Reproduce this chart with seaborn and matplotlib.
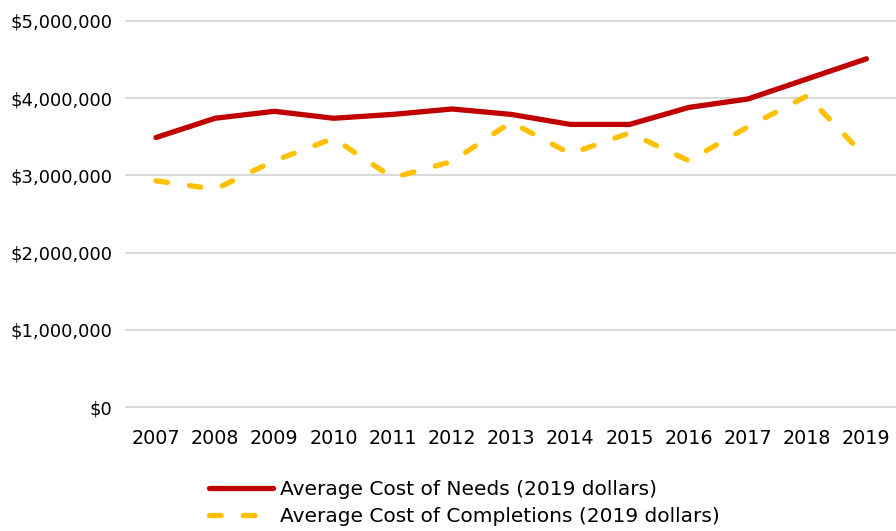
import numpy as np
import pandas as pd
import matplotlib
matplotlib.use("Agg")
import matplotlib.pyplot as plt
import seaborn as sns
from matplotlib.ticker import FuncFormatter

# ---------------------------------------------------------------
# Data
# ---------------------------------------------------------------
years = [2007, 2008, 2009, 2010, 2011, 2012, 2013, 2014, 2015, 2016, 2017, 2018, 2019]
cost_needs = [3490000, 3740000, 3830000, 3740000, 3790000, 3860000, 3790000,
              3660000, 3660000, 3880000, 3990000, 4250000, 4510000]
cost_completions = [2930000, 2820000, 3190000, 3480000, 2970000, 3180000, 3690000,
                    3280000, 3550000, 3190000, 3630000, 4030000, 3230000]

needs_label = "Average Cost of Needs (2019 dollars)"
compl_label = "Average Cost of Completions (2019 dollars)"

df = pd.DataFrame({"Year": years, needs_label: cost_needs, compl_label: cost_completions})
long_df = df.melt(id_vars="Year", var_name="Series", value_name="Cost")

sns.set_style("white")
plt.rcParams["font.family"] = ["DejaVu Sans"]

fig = plt.figure(figsize=(8.96, 5.31), dpi=100)
ax = fig.add_axes([0.141, 0.2335, 0.859, 0.727])

dash = (2.2, 4.2)
palette = {needs_label: "#C00000", compl_label: "#FFC000"}
sns.lineplot(data=long_df, x="Year", y="Cost", hue="Series", style="Series",
             palette=palette, dashes={needs_label: "", compl_label: dash},
             linewidth=3.8, ax=ax, legend=False)
for line in ax.lines:
    line.set_solid_capstyle("round")
    line.set_dash_capstyle("round")

ax.set_xlim(2006.5, 2019.5)
ax.set_ylim(0, 5000000)
ax.set_xticks(years)
ax.set_yticks(np.arange(0, 5000001, 1000000))
ax.yaxis.set_major_formatter(FuncFormatter(lambda v, p: f"${v:,.0f}"))
ax.grid(axis="y", color="#d9d9d9", linewidth=1.5)
for gl in ax.get_ygridlines():
    gl.set_clip_on(False)
ax.set_axisbelow(True)
for s in ax.spines.values():
    s.set_visible(False)
ax.tick_params(axis="both", length=0, colors="black")
ax.tick_params(axis="x", pad=16, labelsize=13.8)
ax.tick_params(axis="y", pad=10, labelsize=13)
ax.set_xlabel("")
ax.set_ylabel("")

handles = [plt.Line2D([], [], color="#C00000", lw=3.8, solid_capstyle="round"),
           plt.Line2D([], [], color="#FFC000", lw=3.8, ls=(0, dash), dash_capstyle="round")]
fig.legend(handles, [needs_label, compl_label], loc="upper center",
           bbox_to_anchor=(0.518, 0.096), ncol=1, frameon=False, fontsize=14.5,
           handlelength=3.2, handletextpad=0.35, labelspacing=0.4, borderaxespad=0,
           borderpad=0, labelcolor="black")

fig.savefig("out.png", dpi=100)
